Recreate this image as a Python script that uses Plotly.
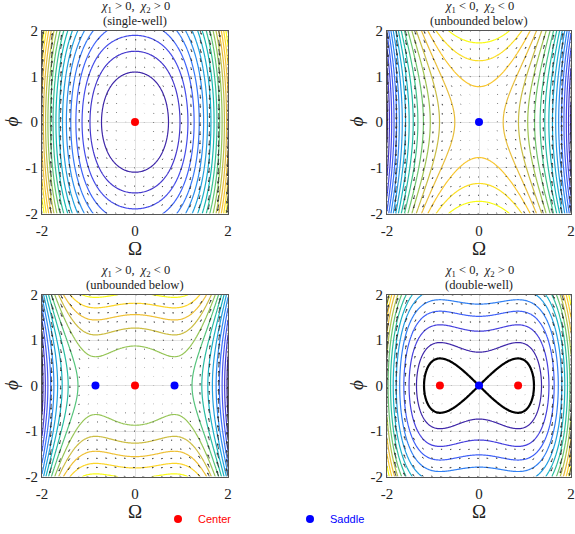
import numpy as np
import plotly.graph_objects as go
import plotly.figure_factory as ff

# --- values (panel order: TL, TR, BL, BR) ---
chi1 = [2.0, -2.0, 1.0, -1.0]
chi2 = [1.2, -1.2, -1.4, 1.4]
lev_start = [0.6, -8.7, -3.4, 0.27]
lev_step = [0.6, 0.6, 0.42, 0.445]
titles = [
    "<i>χ</i><sub>1</sub> > 0,  <i>χ</i><sub>2</sub> > 0",
    "<i>χ</i><sub>1</sub> < 0,  <i>χ</i><sub>2</sub> < 0",
    "<i>χ</i><sub>1</sub> > 0,  <i>χ</i><sub>2</sub> < 0",
    "<i>χ</i><sub>1</sub> < 0,  <i>χ</i><sub>2</sub> > 0",
]
subtitles = ["(single-well)", "(unbounded below)", "(unbounded below)", "(double-well)"]
centers_x = [[0.0], [], [0.0], [-0.85, 0.85]]
saddles_x = [[], [0.0], [-0.85, 0.85], [0.0]]
separatrix_level = [None, None, None, 0.0]
xtick_vals = [-2, 0, 2]
xtick_text = ["-2", "0", "2"]
ytick_vals = [-2, -1, 0, 1, 2]
ytick_text = ["-2", "-1", "0", "1", "2"]

# MATLAB parula (approx.)
parula = [
    [0.0, "#3e26a8"], [0.1, "#4743e3"], [0.2, "#3d66fb"], [0.3, "#2b89f0"],
    [0.4, "#1ca7d8"], [0.5, "#14b8b4"], [0.6, "#48c382"], [0.7, "#9cc553"],
    [0.8, "#e1b93c"], [0.9, "#fdc92e"], [1.0, "#f9fb15"],
]

W, H_px = 575, 534
x_px = [(42, 228), (387, 571), (42, 228), (387, 571)]
y_px = [(31, 216), (31, 216), (298, 482), (298, 482)]


def px(xp):
    return xp / W


def py(yp):
    return 1 - yp / H_px


serif = "Liberation Serif"

om = np.linspace(-2, 2, 201)
ph = np.linspace(-2, 2, 201)
OM, PH = np.meshgrid(om, ph)

qo = np.linspace(-2, 2, 21)
QO, QP = np.meshgrid(qo, qo)

fig = go.Figure()
annotations = []

for i in range(4):
    xa = "x" if i == 0 else f"x{i+1}"
    ya = "y" if i == 0 else f"y{i+1}"
    Hf = 0.5 * PH**2 + 0.5 * chi1[i] * OM**2 + 0.25 * chi2[i] * OM**4
    zmin, zmax = float(Hf.min()), float(Hf.max())

    fig.add_trace(go.Contour(
        x=om, y=ph, z=Hf, xaxis=xa, yaxis=ya,
        contours=dict(coloring="lines", start=lev_start[i], end=zmax - 1e-6, size=lev_step[i]),
        colorscale=parula, zmin=zmin, zmax=zmax, zauto=False,
        line=dict(width=1.2), showscale=False, hoverinfo="skip",
    ))

    # quiver of the flow dOm/dt = phi, dphi/dt = -(chi1*Om + chi2*Om^3)
    U = QP
    V = -(chi1[i] * QO + chi2[i] * QO**3)
    mag = np.sqrt(U**2 + V**2).max()
    q = ff.create_quiver(QO.ravel(), QP.ravel(), U.ravel(), V.ravel(),
                         scale=0.9 * 0.2 / mag, arrow_scale=0.3, angle=np.pi / 8)
    fig.add_trace(go.Scatter(
        x=q.data[0].x, y=q.data[0].y, xaxis=xa, yaxis=ya, mode="lines",
        line=dict(color="#2a2a2a", width=0.8), showlegend=False, hoverinfo="skip",
    ))

    if separatrix_level[i] is not None:
        fig.add_trace(go.Contour(
            x=om, y=ph, z=Hf, xaxis=xa, yaxis=ya,
            contours=dict(coloring="lines", start=separatrix_level[i],
                          end=separatrix_level[i], size=1),
            colorscale=[[0, "black"], [1, "black"]],
            line=dict(width=2.2), showscale=False, hoverinfo="skip",
        ))

    if centers_x[i]:
        fig.add_trace(go.Scatter(
            x=centers_x[i], y=[0] * len(centers_x[i]), xaxis=xa, yaxis=ya,
            mode="markers", marker=dict(color="#ff0000", size=8),
            name="<span style='color:#ff0000'>Center</span>",
            legendgroup="c", showlegend=(i == 0),
        ))
    if saddles_x[i]:
        fig.add_trace(go.Scatter(
            x=saddles_x[i], y=[0] * len(saddles_x[i]), xaxis=xa, yaxis=ya,
            mode="markers", marker=dict(color="#0000ff", size=8),
            name="<span style='color:#0000ff'>Saddle</span>",
            legendgroup="s", showlegend=(i == 1),
        ))

    x0, x1 = x_px[i]
    y0, y1 = y_px[i]
    axis_common = dict(
        range=[-2, 2], showline=True, mirror=True, linecolor="#555555", linewidth=1,
        showgrid=True, gridcolor="#e3e3e3", gridwidth=0.8, zeroline=False,
        ticks="", tickfont=dict(family=serif, size=15, color="#222222"),
        fixedrange=True, automargin=False,
    )
    fig.update_layout({
        ("xaxis" if i == 0 else f"xaxis{i+1}"): dict(
            axis_common, domain=[px(x0), px(x1)], anchor=ya, tickmode="array",
            tickvals=xtick_vals, ticktext=xtick_text, ticklabelstandoff=3),
        ("yaxis" if i == 0 else f"yaxis{i+1}"): dict(
            axis_common, domain=[py(y1), py(y0)], anchor=xa, tickmode="array",
            tickvals=ytick_vals, ticktext=ytick_text, ticklen=1),
    })

    xc = px((x0 + x1) / 2)
    annotations += [
        dict(text=titles[i], x=xc, y=py(y0 - 23.5), yanchor="middle", xanchor="center",
             font=dict(family=serif, size=12.5, color="#222222")),
        dict(text=subtitles[i], x=xc, y=py(y0 - 9.5), yanchor="middle", xanchor="center",
             font=dict(family=serif, size=12.5, color="#222222")),
        dict(text="Ω", x=xc, y=py(y1 + 35), yanchor="middle", xanchor="center",
             font=dict(family=serif, size=19, color="#222222")),
        dict(text="<i>ϕ</i>", x=px(x0 - 30.5), y=py((y0 + y1) / 2), textangle=-90,
             yanchor="middle", xanchor="center",
             font=dict(family=serif, size=19, color="#222222")),
    ]

for a in annotations:
    a.update(xref="paper", yref="paper", showarrow=False)

fig.update_layout(
    width=W, height=H_px, margin=dict(l=0, r=0, t=0, b=0),
    paper_bgcolor="white", plot_bgcolor="white",
    annotations=annotations,
    showlegend=True,
    legend=dict(orientation="h", x=px(158), xanchor="left", y=py(525), yanchor="middle",
                itemwidth=30, entrywidth=87, entrywidthmode="pixels",
                font=dict(family="Liberation Sans", size=11), bgcolor="rgba(0,0,0,0)"),
)

# the page's default 8px body margin would push the figure off the window
fig.write_html("out.html", config={"displayModeBar": False},
               post_script="document.body.style.margin='0px';")
